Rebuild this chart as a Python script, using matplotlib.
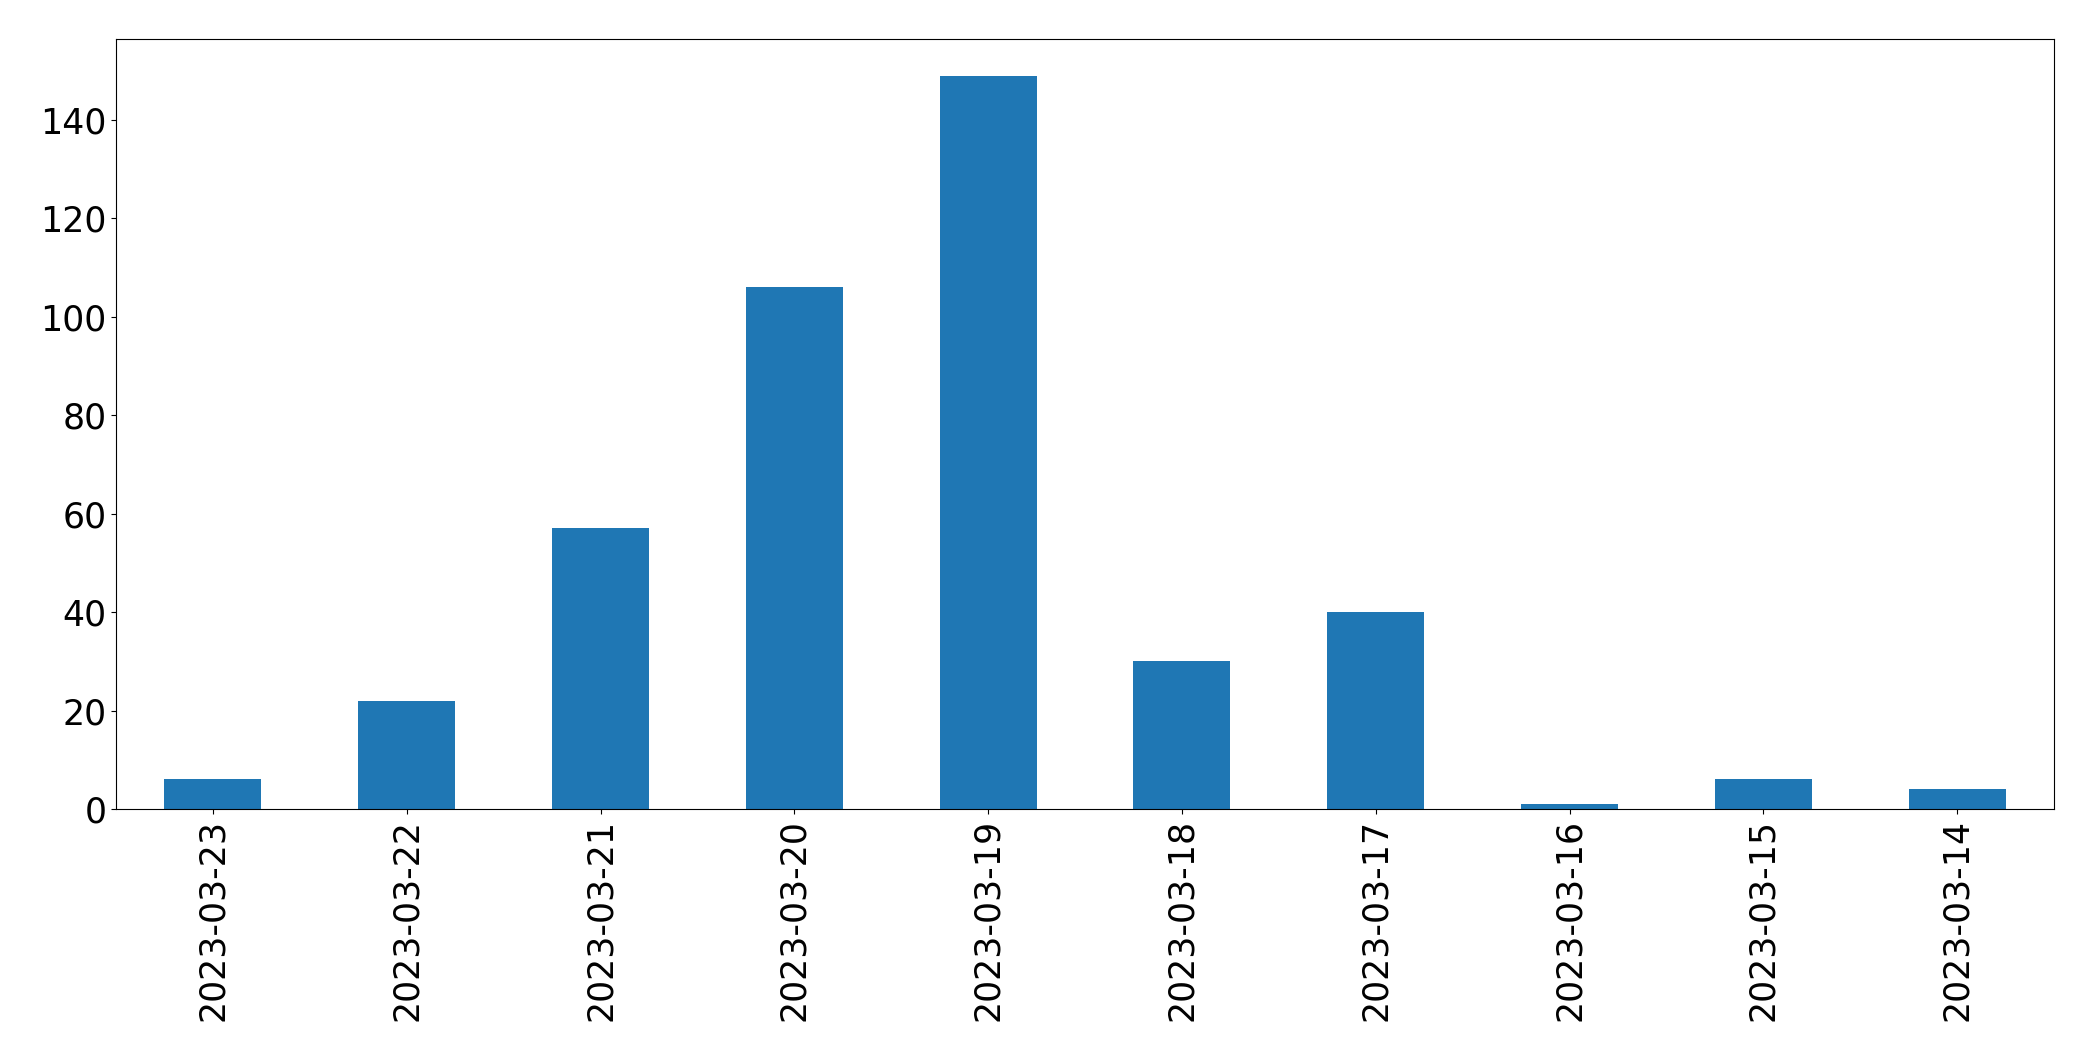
import pandas as pd
import matplotlib.pyplot as plt

# 날짜별 건수
dates = ["2023-03-23", "2023-03-22", "2023-03-21", "2023-03-20", "2023-03-19",
         "2023-03-18", "2023-03-17", "2023-03-16", "2023-03-15", "2023-03-14"]
counts = [6, 22, 57, 106, 149, 30, 40, 1, 6, 4]

series = pd.Series(counts, index=dates)

fig = plt.figure(figsize=(20.93, 10.61), dpi=100)
ax = fig.add_axes([116 / 2093, 1 - 809 / 1061, (2054 - 116) / 2093, (809 - 39) / 1061])
series.plot(kind="bar", ax=ax, color="#1f77b4")
ax.tick_params(axis="both", labelsize=25)
plt.savefig("out.png", dpi=100)
